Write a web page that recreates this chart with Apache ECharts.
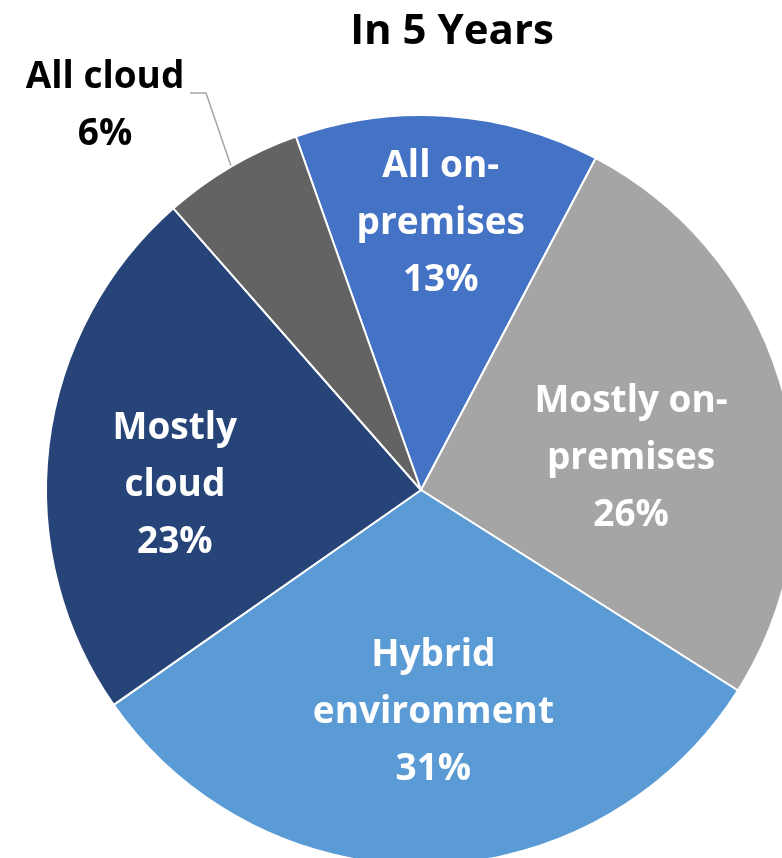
<!DOCTYPE html>
<html>
<head>
<meta charset="utf-8">
<script src="https://cdn.jsdelivr.net/npm/echarts@6/dist/echarts.min.js"></script>
<style>
  html, body { margin: 0; padding: 0; background: #ffffff; }
  #chart { width: 782px; height: 858px; }
</style>
</head>
<body>
<div id="chart"></div>
<script>
// Deployment expectations in five years (share of respondents, %)
const categories = ['All on-\npremises', 'Mostly on-\npremises', 'Hybrid\nenvironment', 'Mostly\ncloud', 'All cloud'];
const shares = [13, 26, 31, 23, 6];
const colors = ['#4472C4', '#A5A5A5', '#5B9BD5', '#264478', '#636363'];
// Nudges for the in-slice labels, in pixels
const labelOffsets = [[6, -77], [26, 18], [8, 32], [-57, 18], [0, 0]];

const FONT = '"Open Sans", Lato, sans-serif';

const chart = echarts.init(document.getElementById('chart'), null, { renderer: 'canvas' });

const data = categories.map((name, i) => {
  const item = { name: name, value: shares[i], itemStyle: { color: colors[i] } };
  if (i === categories.length - 1) {
    item.label = {
      position: 'outside',
      color: '#000000',
      formatter: (p) => p.name + '\n' + p.value + '%'
    };
    item.labelLine = { show: true, length: 60, length2: 15, lineStyle: { color: '#A6A6A6', width: 1.5 } };
  } else {
    item.label = { offset: labelOffsets[i] };
    item.labelLine = { show: false };
  }
  return item;
});

chart.setOption({
  animation: false,
  backgroundColor: '#ffffff',
  title: {
    text: 'In 5 Years',
    left: 447,
    top: 6,
    textAlign: 'center',
    textStyle: { fontFamily: FONT, fontWeight: 'bold', fontSize: 42, color: '#000000' }
  },
  series: [{
    type: 'pie',
    center: [421, 490],
    radius: [0, 375],
    startAngle: 109.5,
    clockwise: true,
    avoidLabelOverlap: false,
    itemStyle: { borderColor: '#ffffff', borderWidth: 2 },
    label: {
      show: true,
      position: 'inside',
      color: '#ffffff',
      fontFamily: FONT,
      fontWeight: 'bold',
      fontSize: 37,
      lineHeight: 57,
      align: 'center',
      formatter: (p) => p.name + '\n' + p.value + '%'
    },
    labelLayout: function (params) {
      if (params.dataIndex !== categories.length - 1) return {};
      const start = params.labelLinePoints ? params.labelLinePoints[0] : [231, 167];
      return {
        x: 105,
        y: 106,
        align: 'center',
        verticalAlign: 'middle',
        labelLinePoints: [start, [206, 93], [190, 93]]
      };
    },
    emphasis: { disabled: true },
    data: data
  }]
});
</script>
</body>
</html>
